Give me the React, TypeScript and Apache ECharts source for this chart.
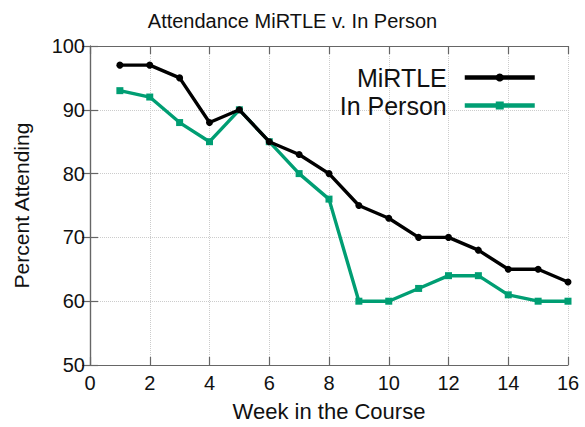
import React, { useEffect, useRef } from "react";
import * as echarts from "echarts";

const weeks = [1, 2, 3, 4, 5, 6, 7, 8, 9, 10, 11, 12, 13, 14, 15, 16];
const mirtle = [97, 97, 95, 88, 90, 85, 83, 80, 75, 73, 70, 70, 68, 65, 65, 63];
const inPerson = [93, 92, 88, 85, 90, 85, 80, 76, 60, 60, 62, 64, 64, 61, 60, 60];

const FONT = "'Liberation Sans', Arial, Helvetica, sans-serif";

export default function App() {
  const ref = useRef<HTMLDivElement>(null);
  useEffect(() => {
    if (!ref.current) return;
    const chart = echarts.init(ref.current, undefined, { renderer: "svg" });
    const axisLine = { show: true, lineStyle: { color: "#666", width: 1.2 } };
    const tick = { show: true, inside: true, length: 8, lineStyle: { color: "#666", width: 1.2 } };
    chart.setOption({
      animation: false,
      backgroundColor: "#fff",
      textStyle: { fontFamily: FONT },
      title: {
        text: "Attendance MiRTLE v. In Person",
        left: "center",
        top: 6,
        textStyle: { fontFamily: FONT, fontSize: 20, fontWeight: "normal", color: "#111" },
      },
      legend: {
        right: 43,
        top: 60,
        orient: "vertical",
        align: "right",
        itemWidth: 70,
        itemHeight: 10,
        itemGap: 3,
        lineStyle: { width: 4.5 },
        textStyle: { fontFamily: FONT, fontSize: 25, color: "#111", padding: [0, 13, 0, 0] },
        data: ["MiRTLE", "In Person"],
      },
      grid: { left: 90, right: 17, top: 46, bottom: 61 },
      xAxis: [
        {
          type: "value",
          min: 0,
          max: 16,
          interval: 2,
          name: "Week in the Course",
          nameLocation: "middle",
          nameGap: 35,
          nameTextStyle: { fontFamily: FONT, fontSize: 22, color: "#111" },
          axisLine,
          axisTick: tick,
          axisLabel: { fontFamily: FONT, fontSize: 20, color: "#111", margin: 8 },
          splitLine: { show: true, lineStyle: { color: "#ccc", type: "dotted", width: 1 } },
        },
        {
          type: "value",
          position: "top",
          min: 0,
          max: 16,
          interval: 2,
          axisLine,
          axisTick: tick,
          axisLabel: { show: false },
          splitLine: { show: false },
        },
      ],
      yAxis: [
        {
          type: "value",
          min: 50,
          max: 100,
          interval: 10,
          name: "Percent Attending",
          nameLocation: "middle",
          nameGap: 58,
          nameTextStyle: { fontFamily: FONT, fontSize: 21, color: "#111" },
          axisLine,
          axisTick: tick,
          axisLabel: { fontFamily: FONT, fontSize: 20, color: "#111", margin: 5 },
          splitLine: { show: true, lineStyle: { color: "#ccc", type: "dotted", width: 1 } },
        },
        {
          type: "value",
          position: "right",
          min: 50,
          max: 100,
          interval: 10,
          axisLine,
          axisTick: tick,
          axisLabel: { show: false },
          splitLine: { show: false },
        },
      ],
      series: [
        {
          name: "MiRTLE",
          type: "line",
          data: weeks.map((w, i) => [w, mirtle[i]]),
          color: "#000",
          lineStyle: { width: 3.4, color: "#000" },
          symbol: "circle",
          symbolSize: 7,
          itemStyle: { color: "#000" },
          z: 3,
        },
        {
          name: "In Person",
          type: "line",
          data: weeks.map((w, i) => [w, inPerson[i]]),
          color: "#009e73",
          lineStyle: { width: 3.4, color: "#009e73" },
          symbol: "rect",
          symbolSize: 7,
          itemStyle: { color: "#009e73" },
          z: 2,
        },
      ],
    });
    return () => chart.dispose();
  }, []);
  return <div ref={ref} style={{ width: 585, height: 427, position: "absolute", left: 0, top: 0 }} />;
}
